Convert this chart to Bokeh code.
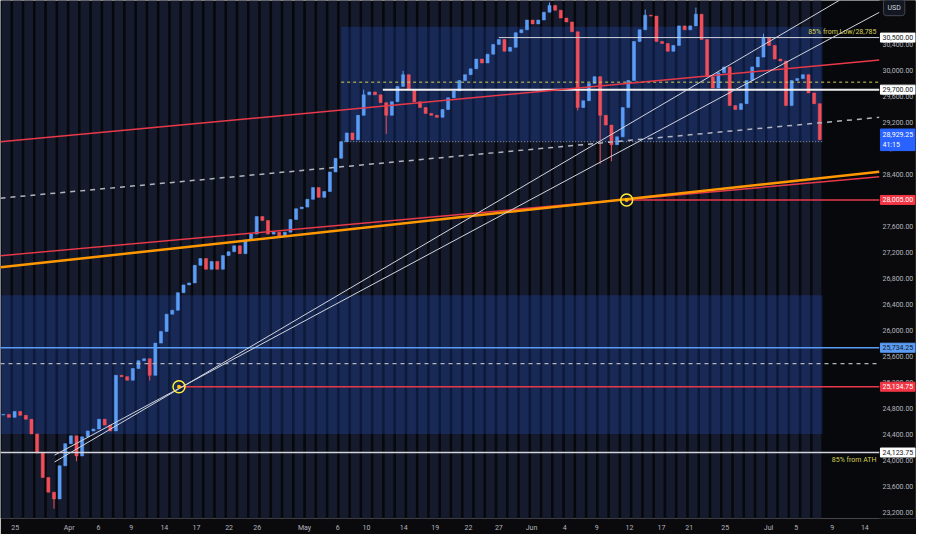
from bokeh.plotting import figure
from bokeh.models import Range1d, FixedTicker, Label
from bokeh.embed import file_html
from bokeh.resources import INLINE

# ---------------- data ----------------
closes = [
    24710, 24665, 24755, 24695, 24635, 24410, 24115, 23740, 23515, 23410,
    23920, 24260, 24380, 24070, 24365, 24455, 24485, 24635, 24545, 24455,
    25310, 25290, 25235, 25415, 25535, 25565, 25310, 25805, 25985, 26250,
    26310, 26580, 26700, 26730, 27000, 27105, 26940, 27060, 26940, 27150,
    27210, 27300, 27180, 27390, 27480, 27750, 27690, 27480, 27510, 27450,
    27510, 27705, 27870, 27895, 28015, 28195, 28045, 28135, 28435, 28645,
    28900, 29035, 28930, 29305, 29620, 29665, 29620, 29500, 29305, 29515,
    29750, 29930, 29695, 29515, 29425, 29335, 29305, 29275, 29395, 29575,
    29680, 29840, 29930, 30020, 30170, 30110, 30245, 30395, 30470, 30290,
    30350, 30575, 30620, 30770, 30710, 30770, 30890, 30995, 30920, 30800,
    30740, 30590, 29425, 29530, 29795, 29900, 29305, 29155, 28855, 28975,
    29425, 29840, 30440, 30620, 30845, 30830, 30440, 30410, 30290, 30380,
    30680, 30620, 30680, 30860, 30470, 29900, 29725, 29960, 30050, 29455,
    29395, 29485, 29840, 30050, 30200, 30500, 30380, 30170, 30140, 29455,
    29840, 29870, 29930, 29650, 29485, 28929.25,
]
first_open = 24700
wick_lows = {9: 23260, 13: 23990, 68: 29020, 102: 29380, 106: 28560, 108: 28600, 26: 25230}
wick_highs = {97: 31040, 123: 30960, 114: 30930, 135: 30560, 64: 29700, 71: 29990}

date_tick_pos = [2.1, 11.7, 16.9, 22.7, 28.6, 34.3, 40.1, 45.1, 53.5, 59.4, 64.5, 71.1, 76.7,
                 82.6, 88.0, 93.8, 99.7, 105.4, 111.2, 116.9, 121.8, 128.2, 135.9, 140.8, 147.2, 153.0]
date_tick_labels = ["25", "Apr", "6", "9", "14", "17", "22", "26", "May", "6", "10", "14", "19",
                    "22", "27", "Jun", "4", "9", "12", "17", "21", "25", "Jul", "5", "9", "14"]
price_ticks = [23200, 23600, 24000, 24400, 24800, 25200, 25600, 26000, 26400, 26800,
               27200, 27600, 28000, 28400, 28800, 29200, 29600, 30000, 30400]

level_ath85 = 24123.75
level_blue = 25734.25
level_red_low = 25134.75
level_red_mid = 28005.00
level_white_mid = 29700.00
level_white_top = 30500.00
level_dash_low = 25490
level_yellow = 29815
last_price = 28929.25

red_upper = ([-0.5, 155.6], [28900, 30156])
red_lower = ([-0.5, 155.6], [27149, 28361])
orange_line = ([-0.5, 155.6], [26970, 28440])
dash_slope = ([-0.5, 155.6], [28032, 29274])
trend_a = ([9.1, 152.8], [23978, 31293])
trend_b = ([9.1, 155.6], [24083, 30889])

anchor_x = [31.2, 110.7]
anchor_y = [25134.75, 28005.00]

upper_box = (60.0, 145.5, 28900, 30665)
lower_box = (-0.5, 145.5, 24410, 26540)

X0, XC, X1 = -0.5, 155.6, 162.0   # chart start, chart end (price-scale edge), frame end
Y0, Y1 = 23110, 31070

# ---------------- derived candles ----------------
n = len(closes)
opens = [first_open] + closes[:-1]
highs = [max(o, c) for o, c in zip(opens, closes)]
lows = [min(o, c) for o, c in zip(opens, closes)]
for k, v in wick_highs.items():
    highs[k] = v
for k, v in wick_lows.items():
    lows[k] = v
idx = list(range(n))
UP, DN = "#5b9cf6", "#ef4f5a"
colors = [UP if c >= o else DN for o, c in zip(opens, closes)]

FONT = "Roboto"

p = figure(width=916, height=534, x_range=Range1d(X0, X1), y_range=Range1d(Y0, Y1),
           output_backend="svg", toolbar_location=None, y_axis_location="right",
           min_border=0, background_fill_color="#07080c", border_fill_color="#0a0a0c",
           outline_line_color=None)
p.grid.visible = False

# session stripes
sessions = [2 * k + 0.5 for k in range((n + 1) // 2)]
p.vbar(x=sessions, width=1.55, top=40000, bottom=20000, fill_color="#151b2c", line_color=None)

# blue zones
for (l, r, b, t) in (upper_box, lower_box):
    p.quad(left=[l], right=[r], bottom=[b], top=[t], fill_color="#2962ff", fill_alpha=0.2, line_color=None)

# candles
p.segment(x0=idx, y0=lows, x1=idx, y1=highs, line_color=colors, line_width=1)
p.vbar(x=idx, width=0.55, top=[max(o, c) for o, c in zip(opens, closes)],
       bottom=[min(o, c) for o, c in zip(opens, closes)], fill_color=colors, line_color=colors, line_width=0.5)

# horizontal levels
p.line([X0, XC], [level_ath85] * 2, line_color="#d1d4dc", line_width=1.5)
p.line([X0, XC], [level_blue] * 2, line_color="#5b9cf6", line_width=1.5)
p.line([X0, XC], [level_dash_low] * 2, line_color="#b2b5be", line_width=1.2, line_dash="4 4")
p.line([anchor_x[0], XC], [level_red_low] * 2, line_color="#e8394a", line_width=1.5)
p.line([anchor_x[1], XC], [level_red_mid] * 2, line_color="#e8394a", line_width=1.5)
p.line([67.4, XC], [level_white_mid] * 2, line_color="#f0f0f0", line_width=2)
p.line([88.0, XC], [level_white_top] * 2, line_color="#d1d4dc", line_width=1)
p.line([60.0, XC], [level_yellow] * 2, line_color="#d6cf55", line_width=1, line_dash="3 3")
p.line([60.0, 145.5], [28900] * 2, line_color="#9598a1", line_width=1, line_dash="1 2")

# sloped lines
p.line(*dash_slope, line_color="#b2b5be", line_width=1.5, line_dash="5 5")
p.line(*red_upper, line_color="#e8394a", line_width=1.5)
p.line(*red_lower, line_color="#e8394a", line_width=1.5)
p.line(*orange_line, line_color="#ff9800", line_width=2.5)
p.line(*trend_a, line_color="#d1d4dc", line_width=1)
p.line(*trend_b, line_color="#d1d4dc", line_width=1)

# anchors
p.scatter(anchor_x, anchor_y, size=12, fill_color=None, line_color="#ffeb3b", line_width=1.5)
p.scatter(anchor_x, anchor_y, size=4, fill_color="#ffc107", line_color=None)

# price-scale background (right strip of the frame)
p.quad(left=[XC], right=[X1 + 5], bottom=[Y0 - 1000], top=[Y1 + 1000], fill_color="#0a0a0c", line_color=None)

# texts
p.add_layout(Label(x=XC, y=level_white_top + 20, text="85% from Low/28,785", text_align="right",
                   text_baseline="bottom", x_offset=-3, text_font=FONT, text_font_size="7px",
                   text_color="#d6cf55"))
p.add_layout(Label(x=XC, y=level_ath85 - 50, text="85% from ATH", text_align="right",
                   text_baseline="top", x_offset=-3, text_font=FONT, text_font_size="7px",
                   text_color="#d6cf55"))

# axes
p.yaxis.ticker = FixedTicker(ticks=price_ticks)
p.yaxis.major_label_overrides = {t: f"{t:,.2f}" for t in price_ticks}
p.xaxis.ticker = FixedTicker(ticks=date_tick_pos)
p.xaxis.major_label_overrides = {t: s for t, s in zip(date_tick_pos, date_tick_labels)}
for ax in (p.xaxis, p.yaxis):
    ax.axis_line_color = None
    ax.major_tick_line_color = None
    ax.minor_tick_line_color = None
    ax.major_tick_out = 0
    ax.major_tick_in = 0
    ax.minor_tick_out = 0
    ax.minor_tick_in = 0
    ax.major_label_text_color = "#b2b5be"
    ax.major_label_text_font = FONT
    ax.major_label_text_font_size = "7px"
p.yaxis.major_label_standoff = -33
p.xaxis.major_label_standoff = 5

# price-scale badges
badges = [
    (level_white_top, "30,500.00", "#ffffff", "#131722"),
    (level_white_mid, "29,700.00", "#ffffff", "#131722"),
    (last_price, "28,929.25\n41:15", "#2962ff", "#ffffff"),
    (level_red_mid, "28,005.00", "#f23645", "#ffffff"),
    (level_blue, "25,734.25", "#5b9cf6", "#131722"),
    (level_red_low, "25,134.75", "#f23645", "#ffffff"),
    (level_ath85, "24,123.75", "#ffffff", "#131722"),
]
for y, t, bg, fg in badges:
    p.add_layout(Label(x=XC, y=y, text=t, text_align="left", text_baseline="middle", x_offset=1,
                       text_font=FONT, text_font_size="7px", text_color=fg,
                       background_fill_color=bg, border_line_color=bg, padding=2))
p.add_layout(Label(x=XC, y=30960, text="USD", text_align="left", text_baseline="middle", x_offset=4,
                   text_font=FONT, text_font_size="7px", text_color="#d1d4dc",
                   background_fill_color="#131722", border_line_color="#434651", padding=4,
                   border_radius=3))

open("out.html", "w").write(file_html(p, INLINE))
